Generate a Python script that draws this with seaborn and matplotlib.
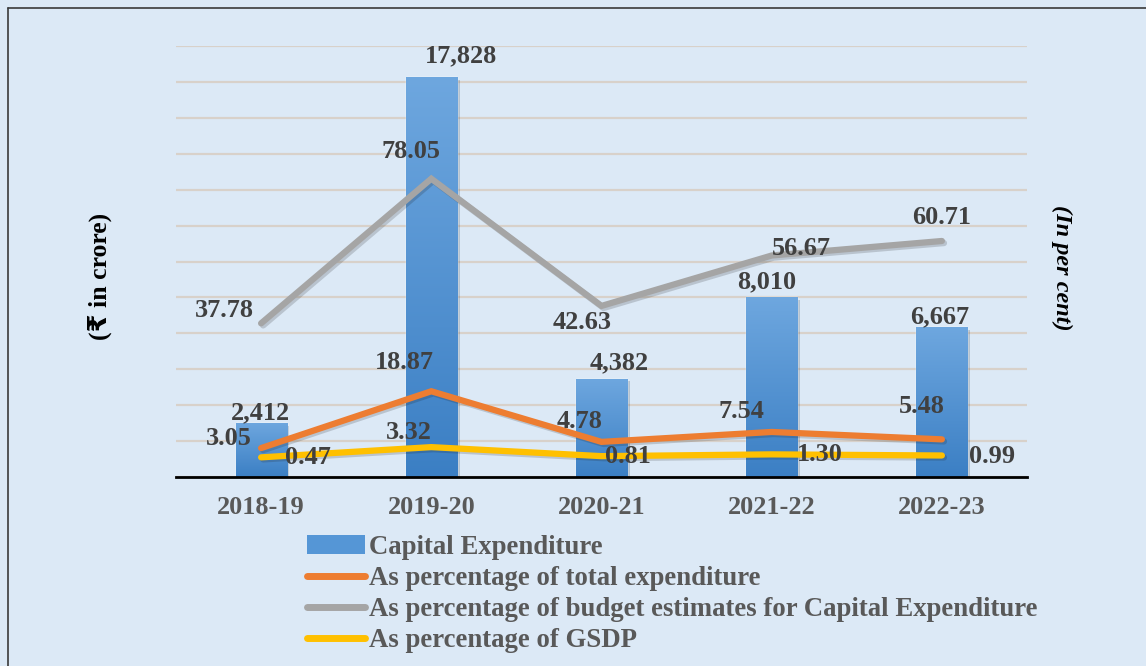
import numpy as np
import pandas as pd
import matplotlib
matplotlib.use('Agg')
import matplotlib.pyplot as plt
import matplotlib.patheffects as pe
from matplotlib.lines import Line2D
from matplotlib.patches import Patch
from matplotlib.colors import LinearSegmentedColormap
import seaborn as sns

# ---------------- data ----------------
years = ['2018-19', '2019-20', '2020-21', '2021-22', '2022-23']
capex = [2412, 17828, 4382, 8010, 6667]
pct_total = [3.05, 18.87, 4.78, 7.54, 5.48]
pct_be = [37.78, 78.05, 42.63, 56.67, 60.71]
pct_gsdp = [0.47, 3.32, 0.81, 1.30, 0.99]
capex_labels = ['2,412', '17,828', '4,382', '8,010', '6,667']
series_names = ['Capital Expenditure',
                'As percentage of total expenditure',
                'As percentage of budget estimates for Capital Expenditure',
                'As percentage of GSDP']

# ---------------- style ----------------
sns.set_theme(style='white')
plt.rcParams['font.family'] = ['Liberation Serif', 'DejaVu Sans']
plt.rcParams['font.weight'] = 'bold'

FS = 18.9
W, H = 1146, 666
fig = plt.figure(figsize=(W / 100, H / 100), dpi=100)
fig.patch.set_facecolor('#dce9f6')

ax = fig.add_axes([176 / W, 1 - 477 / H, 851 / W, 431 / H])
ax.set_facecolor('none')

df = pd.DataFrame({'year': years, 'capex': capex})
sns.barplot(data=df, x='year', y='capex', ax=ax, color='#4b8fd1',
            width=0.3, saturation=1, zorder=2)
ax.set_ylim(0, 19200)
ax.set_yticks(np.arange(0, 19201, 1600))
ax.set_axisbelow(True)
ax.yaxis.grid(True, color='#d8d1ca', lw=1.6)
ax.xaxis.grid(False)
ax.set_xlabel('')
ax.set_ylabel('')
for s in ['top', 'left', 'right']:
    ax.spines[s].set_visible(False)
ax.spines['bottom'].set_color('black')
ax.spines['bottom'].set_linewidth(2)
ax.spines['bottom'].set_zorder(5)

# gradient fill for bars
cmap = LinearSegmentedColormap.from_list('bg', ['#3b7fc4', '#6ea7df'])
grad = np.linspace(0, 1, 256).reshape(-1, 1)
bar_patches = list(ax.patches)
for p in bar_patches:
    x0, y0 = p.get_x(), p.get_y()
    w, h = p.get_width(), p.get_height()
    im = ax.imshow(grad, cmap=cmap, origin='lower', aspect='auto',
                   extent=[x0, x0 + w, y0, y0 + h], zorder=2.1)
    im.set_clip_path(p)
    p.set_path_effects([pe.SimplePatchShadow(offset=(2, -2), alpha=0.2), pe.Normal()])
ax.set_xlim(-0.5, 4.5)
ax.set_ylim(0, 19200)

# bar value labels (offsets in pixels)
bar_off = [(-1, 10), (30, 21), (18, 16), (-5, 15), (-2, 11)]
for p, lab, off in zip(bar_patches, capex_labels, bar_off):
    ax.annotate(lab, (p.get_x() + p.get_width() / 2, p.get_height()),
                xytext=off, textcoords='offset pixels', ha='center', va='center',
                fontsize=FS, fontweight='bold', color='#404040', zorder=10)

# ---------------- secondary axis lines ----------------
ax2 = ax.twinx()
ax2.set_ylim(-5, 115)
ax2.set_axis_off()
xs = np.arange(len(years))
line_specs = [
    (pct_be, '#a5a5a5', [(-37, 13), (-20, 27), (-19, -17), (30, 7), (0, 23)]),
    (pct_total, '#ed7d31', [(-32, 10), (-27, 29), (-22, 20), (-30, 20), (-20, 33)]),
    (pct_gsdp, '#ffc000', [(47, 0), (-22, 15), (26, 0), (48, 0), (50, -1)]),
]
for vals, col, offs in line_specs:
    sns.lineplot(x=xs, y=vals, ax=ax2, color=col, lw=4.5, zorder=4,
                 solid_capstyle='round', solid_joinstyle='miter',
                 path_effects=[pe.SimpleLineShadow(offset=(1.5, -1.5), alpha=0.18), pe.Normal()])
    for xi, v, off in zip(xs, vals, offs):
        ax2.annotate(f'{v:.2f}', (xi, v), xytext=off, textcoords='offset pixels',
                     ha='center', va='center', fontsize=FS, fontweight='bold',
                     color='#404040', zorder=10)
ax2.set_xlim(-0.5, 4.5)

# ticks (after twinx, which re-enables left ticks)
ax.tick_params(axis='y', left=False, right=False, labelleft=False, labelright=False)
ax.tick_params(axis='x', bottom=False, pad=7.5, labelsize=FS, labelcolor='#595959')
for lab in ax.get_xticklabels():
    lab.set_fontweight('bold')

# ---------------- axis titles ----------------
fig.text(100 / W, 1 - 276 / H, '(₹ in crore)', rotation=90, ha='center', va='center',
         fontsize=18.5, fontweight='bold', color='black')
fig.text(1062 / W, 1 - 268 / H, '(In per cent)', rotation=270, ha='center', va='center',
         fontsize=17.5, fontweight='bold', fontstyle='italic', color='black')

# ---------------- legend ----------------
handles = [Patch(facecolor='#5596d6', edgecolor='none'),
           Line2D([0], [0], color='#ed7d31', lw=5, solid_capstyle='round'),
           Line2D([0], [0], color='#a5a5a5', lw=5, solid_capstyle='round'),
           Line2D([0], [0], color='#ffc000', lw=5, solid_capstyle='round')]
leg = fig.legend(handles, series_names, loc='upper left',
                 bbox_to_anchor=(307 / W, 1 - 535 / H), frameon=False,
                 fontsize=19.3, handlelength=2.15, handletextpad=0.15,
                 labelspacing=0.23, borderpad=0, borderaxespad=0)
for t in leg.get_texts():
    t.set_color('#595959')
    t.set_fontweight('bold')

# ---------------- frame ----------------
fig.add_artist(Line2D([8 / W, 8 / W], [0, 1 - 8 / H], color='#3a3a3a', lw=1.2,
                      transform=fig.transFigure))
fig.add_artist(Line2D([8 / W, 1], [1 - 8 / H, 1 - 8 / H], color='#3a3a3a', lw=1.2,
                      transform=fig.transFigure))

fig.savefig('out.png', dpi=100, facecolor=fig.get_facecolor())
